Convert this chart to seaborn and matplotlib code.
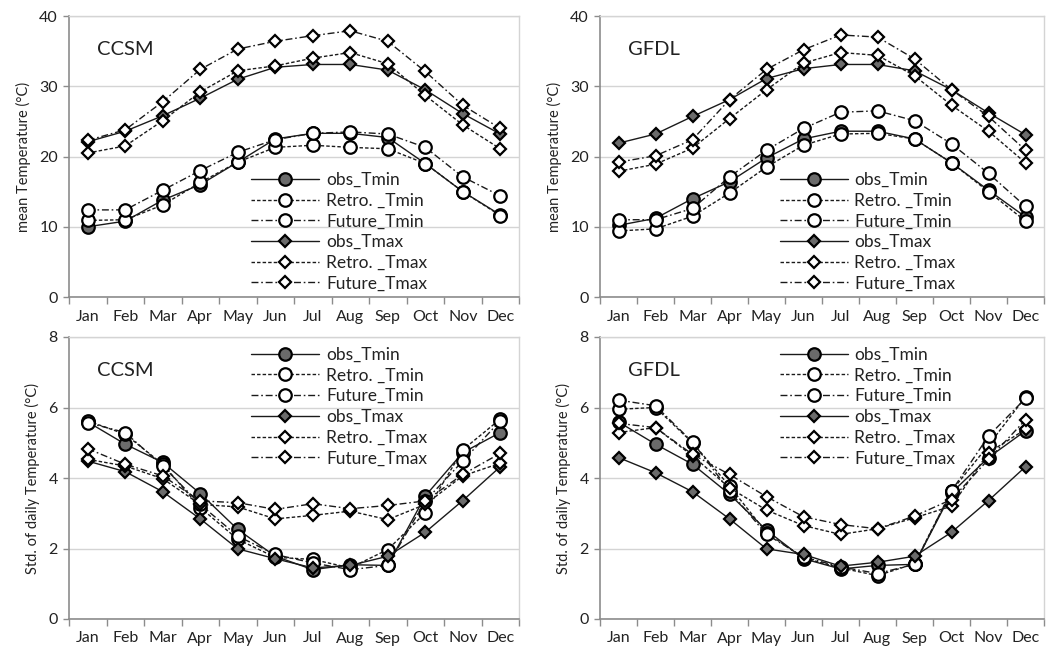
import numpy as np
import pandas as pd
import matplotlib
matplotlib.use("Agg")
import matplotlib.pyplot as plt
import seaborn as sns

sns.set_theme(style="white")
plt.rcParams['font.family'] = ['Lato', 'DejaVu Sans']

months = ["Jan", "Feb", "Mar", "Apr", "May", "Jun", "Jul", "Aug", "Sep", "Oct", "Nov", "Dec"]
series_names = ["obs_Tmin", "Retro. _Tmin", "Future_Tmin", "obs_Tmax", "Retro. _Tmax", "Future_Tmax"]

# CCSM mean temperature
ccsm_mean_obs_tmin = [10.0, 10.8, 13.8, 16.0, 19.2, 22.5, 23.3, 23.3, 22.7, 19.0, 15.0, 11.7]
ccsm_mean_retro_tmin = [10.9, 11.0, 13.1, 16.3, 19.2, 21.3, 21.6, 21.3, 21.1, 19.0, 15.0, 11.6]
ccsm_mean_future_tmin = [12.4, 12.4, 15.2, 18.0, 20.6, 22.4, 23.3, 23.5, 23.2, 21.3, 17.1, 14.4]
ccsm_mean_obs_tmax = [22.1, 23.6, 25.8, 28.3, 31.0, 32.7, 33.1, 33.1, 32.3, 29.5, 26.1, 23.2]
ccsm_mean_retro_tmax = [20.5, 21.5, 25.1, 29.2, 32.2, 32.9, 34.0, 34.8, 33.2, 28.7, 24.5, 21.1]
ccsm_mean_future_tmax = [22.3, 23.8, 27.8, 32.4, 35.3, 36.4, 37.2, 37.9, 36.4, 32.1, 27.3, 24.0]

# GFDL mean temperature
gfdl_mean_obs_tmin = [10.2, 11.2, 14.0, 16.4, 19.8, 22.5, 23.6, 23.6, 22.5, 19.1, 15.2, 11.4]
gfdl_mean_retro_tmin = [9.4, 9.7, 11.5, 14.8, 18.5, 21.6, 23.2, 23.3, 22.5, 19.1, 15.0, 10.8]
gfdl_mean_future_tmin = [11.0, 11.0, 12.6, 17.1, 20.9, 24.0, 26.3, 26.5, 25.1, 21.8, 17.6, 12.9]
gfdl_mean_obs_tmax = [21.9, 23.2, 25.7, 28.1, 31.1, 32.5, 33.1, 33.1, 32.2, 29.5, 26.2, 23.1]
gfdl_mean_retro_tmax = [17.9, 18.9, 21.2, 25.4, 29.5, 33.3, 34.8, 34.4, 31.5, 27.3, 23.6, 19.1]
gfdl_mean_future_tmax = [19.2, 20.1, 22.4, 28.1, 32.4, 35.2, 37.3, 37.0, 33.9, 29.5, 25.7, 20.9]

# CCSM std of daily temperature
ccsm_std_obs_tmin = [5.59, 4.96, 4.44, 3.56, 2.54, 1.78, 1.40, 1.54, 1.52, 3.49, 4.72, 5.29]
ccsm_std_retro_tmin = [5.62, 5.24, 4.39, 3.16, 2.26, 1.75, 1.69, 1.45, 1.97, 3.01, 4.80, 5.67]
ccsm_std_future_tmin = [5.57, 5.29, 4.34, 3.25, 2.35, 1.83, 1.59, 1.40, 1.52, 3.35, 4.48, 5.62]
ccsm_std_obs_tmax = [4.48, 4.18, 3.61, 2.84, 1.99, 1.71, 1.45, 1.52, 1.78, 2.46, 3.36, 4.32]
ccsm_std_retro_tmax = [4.53, 4.34, 3.98, 3.25, 3.18, 2.84, 2.94, 3.06, 2.82, 3.25, 4.06, 4.42]
ccsm_std_future_tmax = [4.83, 4.39, 4.06, 3.35, 3.30, 3.11, 3.27, 3.13, 3.22, 3.35, 4.10, 4.70]

# GFDL std of daily temperature
gfdl_std_obs_tmin = [5.59, 4.96, 4.39, 3.54, 2.52, 1.71, 1.42, 1.52, 1.55, 3.58, 4.58, 5.34]
gfdl_std_retro_tmin = [5.95, 6.00, 5.00, 3.77, 2.45, 1.73, 1.45, 1.23, 1.57, 3.63, 4.93, 6.30]
gfdl_std_future_tmin = [6.21, 6.05, 5.02, 3.63, 2.40, 1.76, 1.48, 1.29, 1.55, 3.63, 5.19, 6.26]
gfdl_std_obs_tmax = [4.58, 4.15, 3.61, 2.84, 1.99, 1.83, 1.50, 1.61, 1.78, 2.46, 3.36, 4.32]
gfdl_std_retro_tmax = [5.29, 5.43, 4.63, 3.72, 3.09, 2.65, 2.40, 2.56, 2.87, 3.20, 4.72, 5.38]
gfdl_std_future_tmax = [5.55, 5.43, 4.67, 4.10, 3.47, 2.90, 2.68, 2.56, 2.92, 3.39, 4.53, 5.65]

panels = [
    dict(title="CCSM", ylabel="mean Temperature (°C)", ymax=40, ystep=10,
         data=[ccsm_mean_obs_tmin, ccsm_mean_retro_tmin, ccsm_mean_future_tmin,
               ccsm_mean_obs_tmax, ccsm_mean_retro_tmax, ccsm_mean_future_tmax],
         rect=[69, 16, 450, 281], legend="bottom"),
    dict(title="GFDL", ylabel="mean Temperature (°C)", ymax=40, ystep=10,
         data=[gfdl_mean_obs_tmin, gfdl_mean_retro_tmin, gfdl_mean_future_tmin,
               gfdl_mean_obs_tmax, gfdl_mean_retro_tmax, gfdl_mean_future_tmax],
         rect=[600, 16, 444, 281], legend="bottom"),
    dict(title="CCSM", ylabel="Std. of daily Temperature (°C)", ymax=8, ystep=2,
         data=[ccsm_std_obs_tmin, ccsm_std_retro_tmin, ccsm_std_future_tmin,
               ccsm_std_obs_tmax, ccsm_std_retro_tmax, ccsm_std_future_tmax],
         rect=[69, 337, 450, 282], legend="top"),
    dict(title="GFDL", ylabel="Std. of daily Temperature (°C)", ymax=8, ystep=2,
         data=[gfdl_std_obs_tmin, gfdl_std_retro_tmin, gfdl_std_future_tmin,
               gfdl_std_obs_tmax, gfdl_std_retro_tmax, gfdl_std_future_tmax],
         rect=[600, 337, 444, 282], legend="top"),
]

W, H = 1046, 654
fig = plt.figure(figsize=(W / 100, H / 100), dpi=100)
fig.patch.set_facecolor("white")

line_col = "#1a1a1a"
obs_fill = "#6b6b6b"
styles = [
    dict(marker="o", ms=9, mfc=obs_fill, dashes=""),
    dict(marker="o", ms=9, mfc="white", dashes=(2.5, 1.5)),
    dict(marker="o", ms=9, mfc="white", dashes=(5, 2, 1.2, 2)),
    dict(marker="D", ms=6.5, mfc=obs_fill, dashes=""),
    dict(marker="D", ms=6.5, mfc="white", dashes=(2.5, 1.5)),
    dict(marker="D", ms=6.5, mfc="white", dashes=(5, 2, 1.2, 2)),
]

x = np.arange(len(months))
for p in panels:
    l, t, w, h = p["rect"]
    ax = fig.add_axes([l / W, (H - t - h) / H, w / W, h / H])
    ax.set_facecolor("white")
    for name, vals, st in zip(series_names, p["data"], styles):
        df = pd.DataFrame({"month": x, "value": vals})
        sns.lineplot(ax=ax, data=df, x="month", y="value", color=line_col, lw=1.0,
                     marker=st["marker"], markersize=st["ms"], markerfacecolor=st["mfc"],
                     markeredgecolor="black", markeredgewidth=1.6, label=name)
        ln = ax.get_lines()[-1]
        if st["dashes"] == "":
            ln.set_linestyle("-")
        else:
            ln.set_dashes(st["dashes"])
    ax.set_xlim(-0.5, 11.5)
    ax.set_ylim(0, p["ymax"])
    ax.set_yticks(np.arange(0, p["ymax"] + 0.1, p["ystep"]))
    ax.set_xticks(x)
    ax.set_xticklabels(months)
    ax.set_xticks(np.arange(-0.5, 12, 1), minor=True)
    ax.tick_params(axis="x", which="major", length=0, pad=9, labelsize=11.5, colors="#222222")
    ax.tick_params(axis="x", which="minor", length=5, width=1, color="#8c8c8c", direction="out", bottom=True)
    ax.tick_params(axis="y", which="major", length=4, width=1, color="#8c8c8c", direction="out", left=True,
                   labelsize=11.5, colors="#222222", pad=4)
    ax.set_xlabel("")
    ax.set_ylabel(p["ylabel"], fontsize=10.5, color="#222222", labelpad=6)
    ax.grid(axis="y", color="#d4d4d4", lw=1)
    ax.set_axisbelow(True)
    for s in ["left", "bottom"]:
        ax.spines[s].set_color("#8c8c8c")
        ax.spines[s].set_linewidth(1.2)
    for s in ["top", "right"]:
        ax.spines[s].set_color("#d4d4d4")
        ax.spines[s].set_linewidth(1.0)
    ax.text(0.062, 0.88, p["title"], transform=ax.transAxes, fontsize=14.5, color="#222222",
            va="center", ha="left")
    common = dict(frameon=False, fontsize=12.5, handlelength=3.9, handletextpad=0.4,
                  labelspacing=0.27, borderpad=0, borderaxespad=0)
    if p["legend"] == "bottom":
        leg = ax.legend(loc="lower left", bbox_to_anchor=(0.405, 0.02), **common)
    else:
        leg = ax.legend(loc="upper left", bbox_to_anchor=(0.405, 0.965), **common)
    for txt in leg.get_texts():
        txt.set_color("#222222")

fig.savefig("out.png", dpi=100, facecolor="white")
